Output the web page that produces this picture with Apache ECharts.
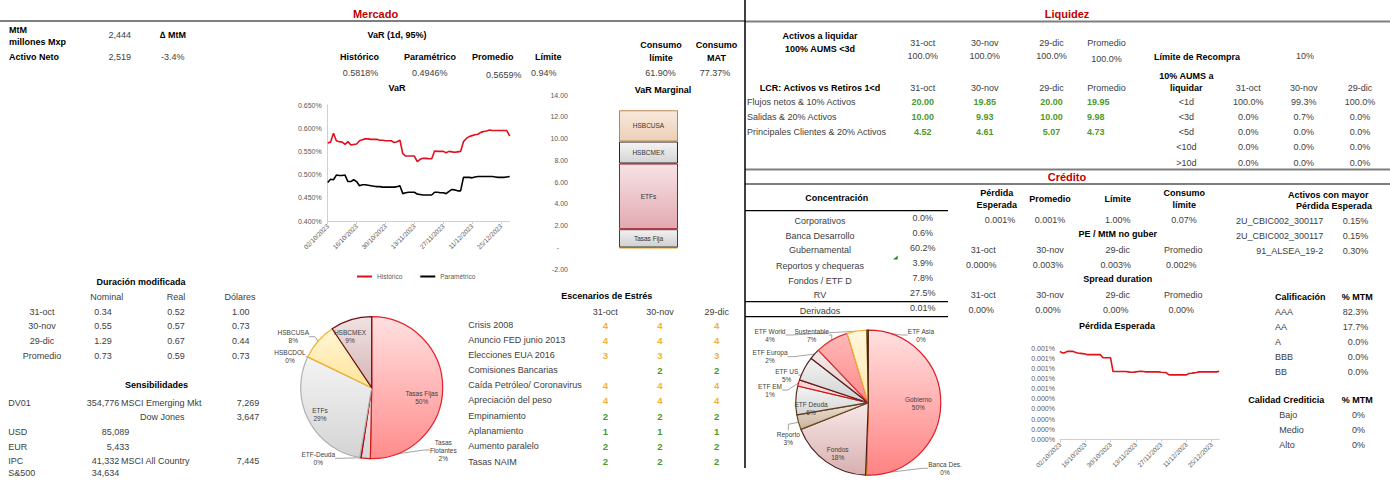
<!DOCTYPE html>
<html><head><meta charset="utf-8">
<script src="https://cdn.jsdelivr.net/npm/echarts@6/dist/echarts.min.js"></script>
<style>html,body{margin:0;padding:0;background:#fff}#c{width:1390px;height:482px}</style>
</head><body><div id="c"></div>
<script>
// ---------------- DATA ----------------
const varDates = ['02/10/2023','03/10/2023','04/10/2023','05/10/2023','06/10/2023',
'09/10/2023','10/10/2023','11/10/2023','12/10/2023','13/10/2023',
'16/10/2023','17/10/2023','18/10/2023','19/10/2023','20/10/2023',
'23/10/2023','24/10/2023','25/10/2023','26/10/2023','27/10/2023',
'30/10/2023','31/10/2023','01/11/2023','02/11/2023','03/11/2023',
'06/11/2023','07/11/2023','08/11/2023','09/11/2023','10/11/2023',
'13/11/2023','14/11/2023','15/11/2023','16/11/2023','17/11/2023',
'20/11/2023','21/11/2023','22/11/2023','23/11/2023','24/11/2023',
'27/11/2023','28/11/2023','29/11/2023','30/11/2023','01/12/2023',
'04/12/2023','05/12/2023','06/12/2023','07/12/2023','08/12/2023',
'11/12/2023','12/12/2023','13/12/2023','14/12/2023','15/12/2023',
'18/12/2023','19/12/2023','20/12/2023','21/12/2023','22/12/2023',
'25/12/2023','26/12/2023','27/12/2023','28/12/2023'];
const varHistorico = [0.568,0.570,0.589,0.573,0.571,0.570,0.565,0.571,0.564,0.565,
 0.566,0.573,0.575,0.577,0.577,0.576,0.576,0.576,0.574,0.574,
 0.573,0.573,0.573,0.569,0.571,0.574,0.545,0.540,0.540,0.540,
 0.540,0.528,0.533,0.535,0.535,0.534,0.534,0.551,0.550,0.550,
 0.550,0.547,0.550,0.549,0.548,0.549,0.550,0.571,0.578,0.582,
 0.584,0.586,0.587,0.591,0.593,0.594,0.596,0.595,0.595,0.595,
 0.595,0.595,0.595,0.583];
const varParametrico = [0.483,0.490,0.489,0.499,0.498,0.498,0.499,0.485,0.485,0.489,
 0.485,0.476,0.478,0.478,0.477,0.476,0.475,0.474,0.474,0.473,
 0.473,0.473,0.473,0.473,0.474,0.476,0.459,0.461,0.462,0.462,
 0.462,0.458,0.457,0.456,0.456,0.456,0.456,0.462,0.462,0.461,
 0.461,0.459,0.464,0.468,0.467,0.465,0.465,0.494,0.494,0.494,
 0.493,0.495,0.496,0.496,0.496,0.496,0.496,0.496,0.495,0.494,
 0.494,0.494,0.495,0.496];
const perdidaEsperada = [0.000870,0.000853,0.000857,0.000870,0.000870,0.000870,0.000860,0.000853,0.000850,0.000847,
 0.000843,0.000837,0.000837,0.000837,0.000837,0.000837,0.000837,0.000807,0.000807,0.000807,
 0.000807,0.000670,0.000670,0.000670,0.000670,0.000670,0.000670,0.000667,0.000663,0.000663,
 0.000667,0.000670,0.000673,0.000670,0.000667,0.000667,0.000667,0.000667,0.000667,0.000667,
 0.000663,0.000660,0.000660,0.000640,0.000637,0.000637,0.000637,0.000637,0.000637,0.000637,
 0.000637,0.000650,0.000653,0.000657,0.000660,0.000667,0.000667,0.000667,0.000667,0.000667,
 0.000667,0.000667,0.000667,0.000673];

const marginalNames = ['Otros','Tasas Fija','ETFs','HSBCMEX','HSBCUSA'];
const marginalValues = [-0.06, 1.68, 6.03, 2.02, 2.87];

const pieMercadoNames = ['Tasas Fijas','Tasas Flotantes','ETF-Deuda','ETFs','HSBCDOL','HSBCUSA','HSBCMEX'];
const pieMercadoLabels = ['Tasas Fijas','Tasas\nFlotantes','ETF-Deuda','ETFs','HSBCDOL','HSBCUSA','HSBCMEX'];
const pieMercadoValues = [50.3, 2.1, 0.3, 29.4, 0.1, 8.4, 9.4];

const pieCreditoNames = ['Gobierno','Banca Des.','Fondos','Reporto','ETF Deuda','ETF EM','ETF US','ETF Europa','Sustentable','ETF World','ETF Asia'];
const pieCreditoValues = [50.4, 0.2, 18.4, 3.3, 6.4, 1.4, 5.4, 2.4, 7.4, 4.4, 0.3];

const durRows = ['31-oct','30-nov','29-dic','Promedio'];
const durNominal = ['0.34','0.55','1.29','0.73'];
const durReal = ['0.52','0.57','0.67','0.59'];
const durDolares = ['1.00','0.73','0.44','0.73'];

const stressNames = ['Crisis 2008','Anuncio FED junio 2013','Elecciones EUA 2016','Comisiones Bancarias','Caída Petróleo/ Coronavirus','Apreciación del peso','Empinamiento','Aplanamiento','Aumento paralelo','Tasas NAIM'];
const stressOct = [4,4,3,null,4,4,2,1,2,2];
const stressNov = [4,4,3,2,4,4,2,1,2,2];
const stressDic = [4,4,3,2,4,4,2,1,2,2];

const lcrNames = ['Flujos netos & 10% Activos','Salidas & 20% Activos','Principales Clientes & 20% Activos'];
const lcrOct = ['20.00','10.00','4.52'];
const lcrNov = ['19.85','9.93','4.61'];
const lcrDic = ['20.00','10.00','5.07'];
const lcrProm = ['19.95','9.98','4.73'];

const aumsBuckets = ['<1d','<3d','<5d','<10d','>10d'];
const aumsOct = ['100.0%','0.0%','0.0%','0.0%','0.0%'];
const aumsNov = ['99.3%','0.7%','0.0%','0.0%','0.0%'];
const aumsDic = ['100.0%','0.0%','0.0%','0.0%','0.0%'];

const concNames = ['Corporativos','Banca Desarrollo','Gubernamental','Reportos y chequeras','Fondos / ETF D','RV'];
const concValues = ['0.0%','0.6%','60.2%','3.9%','7.8%','27.5%'];

const peActivos = ['2U_CBIC002_300117','2U_CBIC002_300117','91_ALSEA_19-2'];
const peActivosVal = ['0.15%','0.15%','0.30%'];
const califNames = ['AAA','AA','A','BBB','BB'];
const califValues = ['82.3%','17.7%','0.0%','0.0%','0.0%'];
const calidadNames = ['Bajo','Medio','Alto'];
const calidadValues = ['0%','0%','0%'];

// ---------------- RENDER ----------------
const chart = echarts.init(document.getElementById('c'), null, {renderer:'svg', width:1390, height:482});
const FONT = '"Liberation Sans", Arial, Helvetica, sans-serif';
const G = [];
function T(x, y, text, o) {
  o = o || {};
  const al = o.align || 'left';
  G.push({type:'text', x:x, y:y, silent:true, z:10,
    style:{text:String(text), fill:o.color || '#404040',
      font:(o.bold ? 'bold ' : '') + (o.size || 9) + 'px ' + FONT,
      align:al, verticalAlign:'middle', textAlign:al, textVerticalAlign:'middle'}});
}
function L(x1, y1, x2, y2, color, w) {
  G.push({type:'line', silent:true, z:5, shape:{x1:x1,y1:y1,x2:x2,y2:y2}, style:{stroke:color, lineWidth:w}});
}
const B = {bold:true, color:'#000'};
const BC = {bold:true, color:'#000', align:'center'};
const C = {align:'center'};
const R = {align:'right'};
const GREEN = '#4a9a2c', ORANGE = '#f2b134';

// separators
L(0,21,745,21,'#7f7f7f',2);
L(745,21.5,1390,21.5,'#7f7f7f',2);
L(745,169.5,1390,169.5,'#7f7f7f',2);
L(745,184,1390,184,'#7f7f7f',2);
L(745,0,745,468,'#000',1.5);
L(745,210.7,948,210.7,'#000',1.2);
L(745,301.7,948,301.7,'#000',1.2);
L(745,316.7,948,316.7,'#000',1.2);

// section titles
T(375.5,13.5,'Mercado',{bold:true,size:11,color:'#c00000',align:'center'});
T(1067,13.5,'Liquidez',{bold:true,size:11,color:'#c00000',align:'center'});
T(1067,177,'Crédito',{bold:true,size:11,color:'#c00000',align:'center'});

// Mercado header block
T(9,29.5,'MtM',B); T(9,42,'millones Mxp',B);
T(131,35,'2,444',R);
T(160,35,'∆ MtM',B);
T(9,57,'Activo Neto',B); T(131,57,'2,519',R); T(161,57,'-3.4%');
T(397,35,'VaR (1d, 95%)',BC);
T(340,57,'Histórico',B); T(342.7,73,'0.5818%');
T(404,57,'Paramétrico',B); T(412,73,'0.4946%');
T(472,57,'Promedio',B); T(486,75,'0.5659%');
T(535,57,'Límite',B); T(531,73,'0.94%');
T(661,45,'Consumo',BC); T(661,58,'límite',BC); T(660.5,73,'61.90%',C);
T(716.5,45,'Consumo',BC); T(716.5,58,'MAT',BC); T(715,73,'77.37%',C);
T(663,90,'VaR Marginal',BC);
T(397,88.3,'VaR',BC);

// Duración modificada
T(141,282,'Duración modificada',BC);
T(106.7,296.5,'Nominal',C); T(176,296.5,'Real',C); T(240,296.5,'Dólares',C);
const durY = [311.7,326,341,356];
durRows.forEach((r,i)=>{ T(42,durY[i],r,C); T(103,durY[i],durNominal[i],C); T(176,durY[i],durReal[i],C); T(240.8,durY[i],durDolares[i],C); });

// Sensibilidades
T(156.5,385,'Sensibilidades',BC);
T(8.3,402.7,'DV01'); T(119.3,402.7,'354,776',R); T(121,402.7,'MSCI Emerging Mkt'); T(259.3,402.7,'7,269',R);
T(140,417,'Dow Jones'); T(259.3,417,'3,647',R);
T(8.3,432.3,'USD'); T(129.3,432.3,'85,089',R);
T(8.3,446.7,'EUR'); T(129.3,446.7,'5,433',R);
T(8.3,461,'IPC'); T(119.3,461,'41,332',R); T(121,461,'MSCI All Country'); T(259.3,461,'7,445',R);
T(8.3,473.3,'S&500'); T(119.3,473.3,'34,634',R);

// Escenarios de Estrés
T(606.7,296,'Escenarios de Estrés',BC);
T(605.3,311.7,'31-oct',C); T(660,311.7,'30-nov',C); T(716.7,311.7,'29-dic',C);
const stY = [325,340,355,370,385,400,416,431,446,461.7];
const stCol = v => v >= 3 ? ORANGE : GREEN;
stressNames.forEach((n,i)=>{
  T(468.3,stY[i],n);
  [[605.3,stressOct[i]],[660,stressNov[i]],[716.7,stressDic[i]]].forEach(([x,v])=>{
    if (v !== null) T(x,stY[i],v,{bold:true,color:stCol(v),align:'center',size:9.5});
  });
});

// Liquidez
T(820,35.7,'Activos a liquidar',BC); T(820,49.3,'100% AUMS <3d',BC);
const lqX = [922.7,984.7,1051.6,1106.6];
['31-oct','30-nov','29-dic','Promedio'].forEach((h,i)=>{ T(lqX[i],43.3,h,C); T(lqX[i],88.3,h,C); });
T(922.7,56,'100.0%',C); T(984.7,56,'100.0%',C); T(1051.6,56,'100.0%',C); T(1106.6,58.7,'100.0%',C);
T(1154,56.7,'Límite de Recompra',B); T(1305,56,'10%',C);
T(1186.3,76,'10% AUMS a',BC); T(1186.3,88.3,'liquidar',BC);
T(820,88.3,'LCR: Activos vs Retiros 1<d',BC);
const rqX = [1248.3,1303.7,1359.9];
['31-oct','30-nov','29-dic'].forEach((h,i)=>T(rqX[i],88.3,h,C));
const lcrY = [101.7,116.7,131.7];
lcrNames.forEach((n,i)=>{
  T(747,lcrY[i],n);
  T(lqX[0],lcrY[i],lcrOct[i],{bold:true,color:GREEN,align:'center'});
  T(lqX[1],lcrY[i],lcrNov[i],{bold:true,color:GREEN,align:'center'});
  T(lqX[2],lcrY[i],lcrDic[i],{bold:true,color:GREEN,align:'center'});
  T(1087,lcrY[i],lcrProm[i],{bold:true,color:GREEN});
});
const aY = [101.7,116.7,131.7,146.7,162.7];
aumsBuckets.forEach((b,i)=>{
  T(1186.3,aY[i],b,C); T(rqX[0],aY[i],aumsOct[i],C); T(rqX[1],aY[i],aumsNov[i],C); T(rqX[2],aY[i],aumsDic[i],C);
});

// Crédito - Concentración
T(836.7,198.3,'Concentración',BC);
const cY = [220.7,235.7,250,265.7,280.7,295];
concNames.forEach((n,i)=>{ T(820,cY[i],n,C); T(922.7,cY[i]-2.4,concValues[i],C); });
T(820,310.7,'Derivados',C); T(922.7,308.3,'0.01%',C);
G.push({type:'polygon', silent:true, shape:{points:[[893,259.5],[898,255.5],[897.5,259.5]]}, style:{fill:'#1a8a1a'}});

// Crédito - middle
T(996.7,193.3,'Pérdida',BC); T(996.7,205,'Esperada',BC);
T(1050,199,'Promedio',BC); T(1117.7,199,'Límite',BC);
T(1184.3,193.3,'Consumo',BC); T(1184.3,205,'límite',BC);
T(1000,220,'0.001%',C); T(1050,220,'0.001%',C); T(1117.7,220,'1.00%',C); T(1184,220,'0.07%',C);
T(1117.7,234.3,'PE / MtM no guber',BC);
const mX = [983.3,1050,1117.7,1183.3];
['31-oct','30-nov','29-dic','Promedio'].forEach((h,i)=>{ T(mX[i],250,h,C); T(mX[i],295,h,C); });
['0.000%','0.003%','0.003%','0.002%'].forEach((v,i)=>T(mX[i]-2,265,v,C));
T(1117.7,279.3,'Spread duration',BC);
['0.00%','0.00%','0.00%','0.00%'].forEach((v,i)=>T(mX[i]-2,310,v,C));
T(1117,326,'Pérdida Esperada',BC);

// Crédito - right
T(1328.3,195,'Activos con mayor',BC); T(1334,205.7,'Pérdida Esperada',BC);
[220.7,236,251].forEach((y,i)=>{ T(1323.3,y,peActivos[i],R); T(1368.3,y,peActivosVal[i],R); });
T(1275,296.7,'Calificación',B); T(1341.7,296.7,'% MTM',B);
[311.7,326.7,341.7,356.7,371.7].forEach((y,i)=>{ T(1275,y,califNames[i]); T(1368.3,y,califValues[i],R); });
T(1248.3,400,'Calidad Crediticia',B); T(1341.7,400,'% MTM',B);
[415,430,445].forEach((y,i)=>{ T(1279.3,y,calidadNames[i]); T(1365,y,calidadValues[i],R); });

// ---------- styles ----------
const grad = (a,b) => ({type:'linear',x:0,y:0,x2:0,y2:1,colorStops:[{offset:0,color:a},{offset:1,color:b}]});
const marginalStyle = {
  'Otros':      {color:'#f2b134', borderColor:'#e8a020'},
  'Tasas Fija': {color:grad('#f2f2f2','#cfcfcf'), borderColor:'#404040'},
  'ETFs':       {color:grad('#f7e3e5','#e2a9b0'), borderColor:'#a3162a'},
  'HSBCMEX':    {color:grad('#f4f4f4','#d4d4d4'), borderColor:'#262626'},
  'HSBCUSA':    {color:grad('#f8e9dc','#eccfb6'), borderColor:'#b8874e'}
};
const pieMercadoStyle = [
  {fill:grad('#ffe0e0','#ff8c8c'), border:'#e8202a', pos:'inside'},
  {fill:grad('#eeeeee','#d6d6d6'), border:'#d01818', pos:'outside'},
  {fill:'#e03030', border:'#c00000', pos:'outside'},
  {fill:grad('#f4f4f4','#d4d4d4'), border:'#b0b0b0', pos:'inside'},
  {fill:'#ffe9a8', border:'#f0b030', pos:'outside'},
  {fill:grad('#fff6d6','#ffe49a'), border:'#f0b030', pos:'outside'},
  {fill:grad('#efe2e2','#d6b6b6'), border:'#6a1010', pos:'inside'}
];
// label anchor positions (label layout only)
const pieMercadoLabelAt = [[421.7,397],[443.3,450],[318.3,458.3],[320,414],[290,356.7],[293.3,336.7],[350,336.7]];
const pieCreditoStyle = [
  {fill:grad('#ffe0e0','#ff8282'), border:'#e01e28', pos:'inside'},
  {fill:'#f0a020', border:'#e09010', pos:'outside'},
  {fill:grad('#f8e8e8','#d8b0b0'), border:'#4a1a1a', pos:'inside'},
  {fill:grad('#eee2d6','#c9b29c'), border:'#6b4a20', pos:'outside'},
  {fill:grad('#f4f4f4','#d6d6d6'), border:'#5a3a20', pos:'inside'},
  {fill:'#ffd4d4', border:'#d01010', pos:'outside'},
  {fill:grad('#f4f4f4','#d0d0d0'), border:'#5a2020', pos:'outside'},
  {fill:grad('#f4e8e8','#e0cccc'), border:'#5a2020', pos:'outside'},
  {fill:grad('#ffb8b8','#ff8a8a'), border:'#e03030', pos:'outside'},
  {fill:grad('#fff6dc','#ffe8b0'), border:'#f0b030', pos:'outside'},
  {fill:'#fff0d0', border:'#4a2a10', pos:'outside'}
];
const pieCreditoLabelAt = [[918.3,403.3],[945,468.3],[837.7,453.3],[788.3,438.3],[811,408.3],[770,390],[786.7,375],[770,356.7],[811.7,335],[770,335],[921,335]];

const pctFmt = p => p.data.lbl + '\n' + Math.round(p.percent) + '%';
function pieData(names, values, labels, styles) {
  return names.map((n,i)=>({
    name:n, value:values[i], lbl:labels[i],
    itemStyle:{color:styles[i].fill, borderColor:styles[i].border, borderWidth:1.2},
    label:{position:styles[i].pos},
    labelLine:{show:styles[i].pos==='outside'}
  }));
}
const layoutAt = arr => (p => ({x:arr[p.dataIndex][0], y:arr[p.dataIndex][1], align:'center', verticalAlign:'middle'}));
const LABC = '#595959';
const dateAxis = (gi) => ({type:'category', gridIndex:gi, data:varDates, boundaryGap:false,
  axisLine:{lineStyle:{color:'#d0d0d0'}},
  axisTick:{interval:9, length:3, lineStyle:{color:'#d0d0d0'}},
  axisLabel:{interval:9, rotate:45, fontSize:6.5, color:LABC, fontFamily:FONT, margin:4}});

const option = {
  animation:false,
  textStyle:{fontFamily:FONT},
  graphic:{elements:G},
  legend:{data:['Histórico','Paramétrico'], left:352, top:268, icon:'rect', itemWidth:15, itemHeight:2, itemGap:18,
    textStyle:{fontSize:6.5, color:LABC, fontFamily:FONT}},
  grid:[
    {left:327.7, top:105, width:182, height:116},
    {left:600, top:95, width:97, height:174.3},
    {left:1060, top:348.3, width:159.2, height:91}
  ],
  xAxis:[
    dateAxis(0),
    {type:'category', gridIndex:1, data:['VaR Marginal'], show:false},
    dateAxis(2)
  ],
  yAxis:[
    {type:'value', gridIndex:0, min:0.4, max:0.65, interval:0.05, splitLine:{show:false},
      axisLine:{show:true, lineStyle:{color:'#d0d0d0'}}, axisTick:{show:false},
      axisLabel:{fontSize:7, color:LABC, fontFamily:FONT, margin:6, formatter:v=>v.toFixed(3)+'%'}},
    {type:'value', gridIndex:1, min:-2, max:14, interval:2, splitLine:{show:false},
      axisLine:{show:false}, axisTick:{show:false},
      axisLabel:{fontSize:7, color:LABC, fontFamily:FONT, margin:32, align:'right',
        formatter:v=>Math.abs(v)<1e-9 ? '{z|-}' : v.toFixed(2),
        rich:{z:{padding:[0,9,0,0], fontSize:7, color:LABC}}}},
    {type:'value', gridIndex:2, min:0, max:0.0009, interval:0.0001, splitLine:{show:false},
      axisLine:{show:false}, axisTick:{show:false},
      axisLabel:{fontSize:7, color:LABC, fontFamily:FONT, margin:5,
        formatter:v=>(Math.round(v*1000+1e-6)/1000).toFixed(3)+'%'}}
  ],
  series:[
    {type:'line', name:'Histórico', xAxisIndex:0, yAxisIndex:0, data:varHistorico, symbol:'none',
      lineStyle:{color:'#e2101c', width:1.6}, itemStyle:{color:'#e2101c'}},
    {type:'line', name:'Paramétrico', xAxisIndex:0, yAxisIndex:0, data:varParametrico, symbol:'none',
      lineStyle:{color:'#000', width:1.6}, itemStyle:{color:'#000'}},
    ...marginalNames.map((n,i)=>({type:'bar', name:n, stack:'marg', xAxisIndex:1, yAxisIndex:1,
      data:[marginalValues[i]], barWidth:59,
      itemStyle:{color:marginalStyle[n].color, borderColor:marginalStyle[n].borderColor, borderWidth:1},
      label:{show:n!=='Otros', position:'inside', formatter:n, fontSize:6.5, color:'#333', fontFamily:FONT}})),
    {type:'line', name:'Pérdida Esperada', xAxisIndex:2, yAxisIndex:2, data:perdidaEsperada, symbol:'none',
      lineStyle:{color:'#e2101c', width:1.6}, itemStyle:{color:'#e2101c'}},
    {type:'pie', name:'Mercado', center:[371.7,387.7], radius:71, startAngle:90, clockwise:true,
      avoidLabelOverlap:false,
      label:{formatter:pctFmt, fontSize:6.5, color:'#404040', fontFamily:FONT, lineHeight:8},
      labelLine:{length:6, length2:6, lineStyle:{color:'#8c8c8c', width:0.8}},
      labelLayout:layoutAt(pieMercadoLabelAt),
      data:pieData(pieMercadoNames, pieMercadoValues, pieMercadoLabels, pieMercadoStyle)},
    {type:'pie', name:'Credito', center:[868.3,402.7], radius:72.5, startAngle:90, clockwise:true,
      avoidLabelOverlap:false,
      label:{formatter:pctFmt, fontSize:6.5, color:'#404040', fontFamily:FONT, lineHeight:8},
      labelLine:{length:6, length2:6, lineStyle:{color:'#8c8c8c', width:0.8}},
      labelLayout:layoutAt(pieCreditoLabelAt),
      data:pieData(pieCreditoNames, pieCreditoValues, pieCreditoNames, pieCreditoStyle)}
  ]
};
chart.setOption(option);
</script>
</body></html>
